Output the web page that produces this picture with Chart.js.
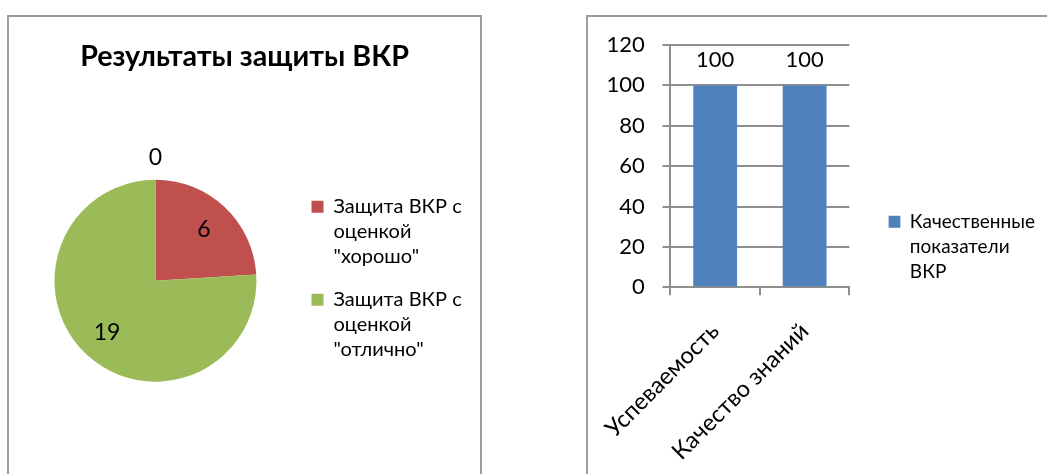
<!DOCTYPE html>
<html>
<head>
<meta charset="utf-8">
<script src="https://cdn.jsdelivr.net/npm/chart.js@4.4.0/dist/chart.umd.min.js"></script>
<style>
  html, body { margin: 0; padding: 0; background: #fff; width: 1047px; height: 474px; overflow: hidden; position: relative; }
  .panel { position: absolute; border: 2px solid #9d9d9d; box-sizing: border-box; }
  #p1 { left: 7px; top: 15px; width: 475px; height: 500px; }
  #p2 { left: 586px; top: 15px; width: 500px; height: 500px; }
  .wrap { position: absolute; top: 0; height: 474px; }
</style>
</head>
<body>
<div class="panel" id="p1"></div>
<div class="panel" id="p2"></div>
<div class="wrap" style="left:0;width:560px"><canvas id="pieChart"></canvas></div>
<div class="wrap" style="left:560px;width:520px"><canvas id="barChart"></canvas></div>
<script>
const pieTitle = 'Результаты защиты ВКР';
const pieLabels = [
  ['Защита ВКР с', 'оценкой', '"удовлетворительно"'],
  ['Защита ВКР с', 'оценкой', '"хорошо"'],
  ['Защита ВКР с', 'оценкой', '"отлично"']
];
const pieValues = [0, 6, 19];
const pieColors = ['#4F81BD', '#C0504D', '#9BBB59'];

const barLabels = ['Успеваемость', 'Качество знаний'];
const barSeriesName = ['Качественные', 'показатели', 'ВКР'];
const barValues = [100, 100];
const yTicks = { min: 0, max: 120, step: 20 };

const FONT = 'Lato, "Open Sans", "DejaVu Sans", sans-serif';
const GRID = '#8e8e8e';

// value labels: inside pie slices (outside for zero), above bars
const valueLabels = {
  id: 'valueLabels',
  afterDatasetsDraw(chart, args, opts) {
    const ctx = chart.ctx;
    ctx.save();
    ctx.font = opts.size + 'px ' + FONT;
    ctx.fillStyle = '#000';
    ctx.textAlign = 'center';
    ctx.textBaseline = 'middle';
    chart.data.datasets.forEach((ds, di) => {
      chart.getDatasetMeta(di).data.forEach((el, i) => {
        const v = ds.data[i];
        let x, y;
        if (chart.config.type === 'pie') {
          const p = el.getProps(['x', 'y', 'startAngle', 'endAngle', 'outerRadius'], true);
          const mid = (p.startAngle + p.endAngle) / 2;
          const d = v === 0 ? p.outerRadius + opts.outside : p.outerRadius * 0.7;
          x = p.x + Math.cos(mid) * d;
          y = p.y + Math.sin(mid) * d;
        } else {
          x = el.x;
          y = el.y - opts.offset;
        }
        ctx.fillText(String(v), x, y);
      });
    });
    ctx.restore();
  }
};

new Chart(document.getElementById('pieChart'), {
  type: 'pie',
  data: {
    labels: pieLabels,
    datasets: [{ data: pieValues, backgroundColor: pieColors, borderWidth: 0 }]
  },
  plugins: [valueLabels],
  options: {
    responsive: true,
    maintainAspectRatio: false,
    animation: false,
    radius: 101,
    layout: { padding: { left: 17.4, right: 88.3, top: 0, bottom: 62.6 } },
    plugins: {
      tooltip: { enabled: false },
      title: {
        display: true,
        text: pieTitle,
        color: '#000',
        font: { family: FONT, size: 28.7, weight: 'bold', lineHeight: 1.2 },
        padding: { top: 39.8, bottom: 75.8 }
      },
      legend: {
        position: 'right',
        align: 'center',
        fullSize: false,
        labels: {
          color: '#000',
          boxWidth: 12,
          boxHeight: 12,
          padding: 18,
          font: { family: FONT, size: 20, lineHeight: '25px' },
          filter: (item, data) => data.datasets[0].data[item.index] !== 0
        }
      },
      valueLabels: { size: 23, outside: 22 }
    }
  }
});

new Chart(document.getElementById('barChart'), {
  type: 'bar',
  data: {
    labels: barLabels,
    datasets: [{
      label: barSeriesName,
      data: barValues,
      backgroundColor: '#4F81BD',
      categoryPercentage: 1,
      barPercentage: 0.49
    }]
  },
  plugins: [valueLabels],
  options: {
    responsive: true,
    maintainAspectRatio: false,
    animation: false,
    layout: { padding: { left: 0, right: 35, top: 45, bottom: 0 } },
    scales: {
      x: {
        grid: { drawOnChartArea: false, drawTicks: true, tickLength: 8, color: GRID, lineWidth: 2 },
        border: { color: GRID, width: 2 },
        ticks: { color: '#000', font: { family: FONT, size: 23.5 }, minRotation: 45, maxRotation: 45, padding: 22 },
        afterFit: (s) => { s.height = 474 - 287.3; }
      },
      y: {
        min: yTicks.min,
        max: yTicks.max,
        grid: { color: GRID, lineWidth: 2, tickLength: 8 },
        border: { color: GRID, width: 2 },
        ticks: { stepSize: yTicks.step, color: '#000', font: { family: FONT, size: 22 }, padding: 17.7 },
        afterFit: (s) => { s.width = 110; }
      },
      gap: {
        type: 'linear',
        axis: 'y',
        position: 'right',
        grid: { display: false },
        border: { display: false },
        ticks: { display: false },
        afterFit: (s) => { s.width = 39; }
      }
    },
    plugins: {
      tooltip: { enabled: false },
      legend: {
        position: 'right',
        align: 'end',
        fullSize: false,
        maxWidth: 300,
        labels: {
          color: '#000',
          boxWidth: 12,
          boxHeight: 12,
          padding: 0,
          font: { family: FONT, size: 19, lineHeight: '25px' }
        }
      },
      valueLabels: { size: 22, offset: 25 }
    }
  }
});
</script>
</body>
</html>
